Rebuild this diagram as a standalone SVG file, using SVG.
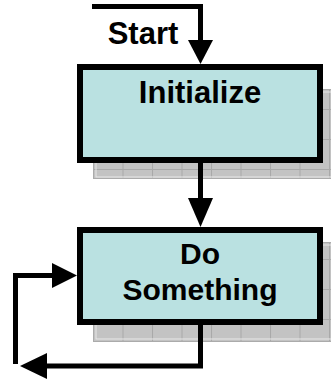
<svg xmlns="http://www.w3.org/2000/svg" width="331" height="381" viewBox="0 0 331 381">
  <style>
    .box { fill: #bae1e1; stroke: #000; stroke-width: 6; }
    .shadow { fill: url(#grid); stroke: #ababab; stroke-width: 1; }
    .shadow-edge { fill: none; stroke: #e8e8e8; stroke-width: 1; }
    .label { font-family: "Liberation Sans", Arial, Helvetica, sans-serif; font-weight: bold; fill: #000; text-anchor: middle; }
    .wire { fill: none; stroke: #000; stroke-width: 5; stroke-linejoin: miter; stroke-linecap: butt; }
    .head { fill: #000; }
  </style>
  <defs>
    <!-- textured drop-shadow fill with a faint grid -->
    <pattern id="grid" patternUnits="userSpaceOnUse" x="93" y="79" width="29.5" height="30">
      <rect width="29.5" height="30" fill="#c3c3c3"/>
      <path d="M0.5 0 V30 M0 0.5 H29.5" stroke="#a9a9a9" stroke-width="1"/>
    </pattern>
  </defs>

  <rect width="331" height="381" fill="#fff"/>

  <!-- nodes -->
  <g id="initialize">
    <rect class="shadow" x="93.5" y="89.5" width="250" height="89"/>
    <rect class="shadow-edge" x="96" y="92" width="250" height="85"/>
    <rect class="box" x="80" y="67" width="240" height="93"/>
    <text class="label" x="200" y="103" font-size="31">Initialize</text>
  </g>

  <g id="do-something">
    <rect class="shadow" x="93.5" y="242.5" width="250" height="99"/>
    <rect class="shadow-edge" x="96" y="245" width="250" height="94"/>
    <rect class="box" x="80" y="230" width="240" height="92"/>
    <text class="label" x="200" y="264" font-size="30">Do</text>
    <text class="label" x="200" y="300" font-size="30">Something</text>
  </g>

  <g id="start-label">
    <text class="label" x="143" y="44" font-size="31">Start</text>
  </g>

  <!-- connectors -->
  <g id="connectors">
    <!-- entry -->
    <path class="wire" d="M92 6.5 H200.5 V41"/>
    <polygon class="head" points="188,40 213,40 200.5,64"/>
    <!-- Initialize to Do Something -->
    <path class="wire" d="M200.5 163 V199"/>
    <polygon class="head" points="188,198 213,198 200.5,227"/>
    <!-- loop out of Do Something -->
    <path class="wire" d="M200.5 325 V366 H46"/>
    <polygon class="head" points="47,353 47,379 20,366"/>
    <!-- loop back into Do Something -->
    <path class="wire" d="M15.5 364 V275.5 H53"/>
    <polygon class="head" points="52,263 52,288 77,275.5"/>
  </g>
</svg>
